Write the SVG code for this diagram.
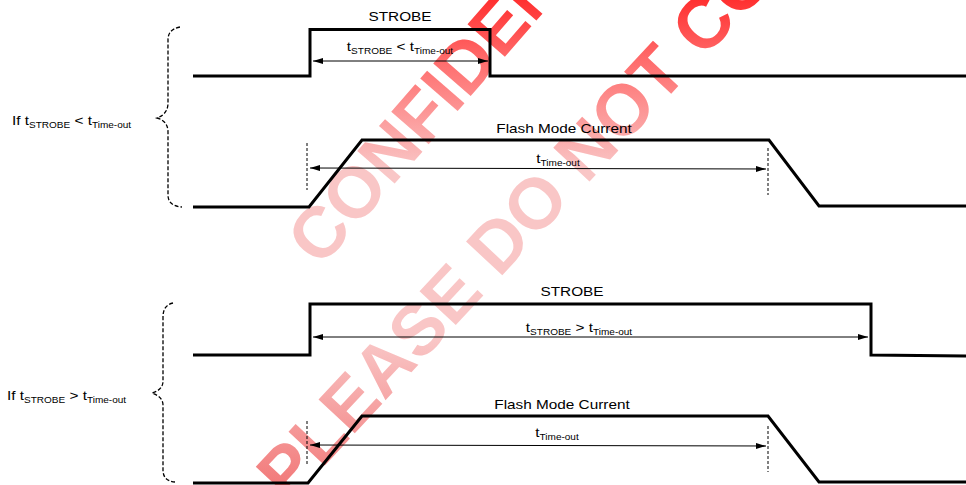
<svg xmlns="http://www.w3.org/2000/svg" width="966" height="485" viewBox="0 0 966 485">
<defs>
  <style>
    .wave { fill: none; stroke: #000; stroke-width: 3; stroke-linejoin: miter; }
    .dim { fill: none; stroke: #000; stroke-width: 1; }
    .tick { fill: none; stroke: #000; stroke-width: 1; stroke-dasharray: 3 2; }
    .brace { fill: none; stroke: #000; stroke-width: 1.3; stroke-dasharray: 4 2; }
    .lbl { font-family: "Liberation Sans", Arial, sans-serif; font-size: 13px; fill: #000; }
    .sub { font-size: 8.5px; }
    .wm { font-family: "Liberation Sans", Arial, sans-serif; font-size: 72px; font-weight: bold; }
  </style>
  <linearGradient id="wmgrad1" gradientUnits="userSpaceOnUse" x1="0" y1="0" x2="0" y2="485" gradientTransform="rotate(49) translate(-320.6 -268.7)">
    <stop offset="0" stop-color="#ff3030"/>
    <stop offset="0.12" stop-color="#ff6a6a"/>
    <stop offset="0.35" stop-color="#f9c6c6"/>
    <stop offset="0.7" stop-color="#f9c6c6"/>
    <stop offset="1" stop-color="#f27a7a"/>
  </linearGradient>
  <linearGradient id="wmgrad2" gradientUnits="userSpaceOnUse" x1="0" y1="0" x2="0" y2="485" gradientTransform="rotate(47) translate(-288.8 -504)">
    <stop offset="0" stop-color="#ff3030"/>
    <stop offset="0.12" stop-color="#ff6a6a"/>
    <stop offset="0.35" stop-color="#f9c6c6"/>
    <stop offset="0.7" stop-color="#f9c6c6"/>
    <stop offset="1" stop-color="#f27a7a"/>
  </linearGradient>
  <marker id="ah" viewBox="0 0 10 6" refX="10" refY="3" markerWidth="10" markerHeight="6" markerUnits="userSpaceOnUse" orient="auto-start-reverse">
    <path d="M0,0 L10,3 L0,6 z" fill="#000"/>
  </marker>
</defs>
<rect width="966" height="485" fill="#fff"/>

<g id="watermark">
  <text class="wm" fill="url(#wmgrad1)" transform="translate(320.6,268.7) rotate(-49)">CONFIDENTIAL</text>
  <text class="wm" fill="url(#wmgrad2)" transform="translate(288.8,504) rotate(-47)">PLEASE DO NOT COPY</text>
</g>

<g id="case1-brace">
  <path class="brace" d="M180,27 Q168,29 168,40 V103 Q168,114 157,118 Q168,121 168,132 V195 Q168,206 182,207"/>
  <text class="lbl" transform="translate(12,125) scale(1.18,1)">If t<tspan class="sub" dy="3">STROBE</tspan><tspan dy="-3"> &lt; t</tspan><tspan class="sub" dy="3">Time-out</tspan></text>
</g>

<g id="case1-strobe">
  <path class="wave" d="M193,76 H310 V29.5 H490 V76 H966"/>
  <text class="lbl" text-anchor="middle" transform="translate(400,20.5) scale(1.18,1)">STROBE</text>
  <text class="lbl" text-anchor="middle" transform="translate(400,51) scale(1.18,1)">t<tspan class="sub" dy="3">STROBE</tspan><tspan dy="-3"> &lt; t</tspan><tspan class="sub" dy="3">Time-out</tspan></text>
</g>

<g id="case1-flash">
  <path class="wave" d="M193,207 H309 L362,140 H769 L819,206 H966"/>
  <text class="lbl" text-anchor="middle" transform="translate(564,133) scale(1.18,1)">Flash Mode Current</text>
  <text class="lbl" text-anchor="middle" transform="translate(558,163) scale(1.18,1)">t<tspan class="sub" dy="3">Time-out</tspan></text>
</g>

<g id="case2-brace">
  <path class="brace" d="M173,303 Q163,305 163,317 V381 Q163,390 152,393 Q163,397 163,405 V470 Q163,481 175,482"/>
  <text class="lbl" transform="translate(7,400) scale(1.18,1)">If t<tspan class="sub" dy="3">STROBE</tspan><tspan dy="-3"> &gt; t</tspan><tspan class="sub" dy="3">Time-out</tspan></text>
</g>

<g id="case2-strobe">
  <path class="wave" d="M193,355 H310 V304 H871 V355 L966,356"/>
  <text class="lbl" text-anchor="middle" transform="translate(572,296) scale(1.18,1)">STROBE</text>
  <text class="lbl" text-anchor="middle" transform="translate(579,332) scale(1.18,1)">t<tspan class="sub" dy="3">STROBE</tspan><tspan dy="-3"> &gt; t</tspan><tspan class="sub" dy="3">Time-out</tspan></text>
</g>

<g id="case2-flash">
  <path class="wave" d="M193,483 H308 L362,416 H768 L819,482 H966"/>
  <text class="lbl" text-anchor="middle" transform="translate(562,409) scale(1.18,1)">Flash Mode Current</text>
  <text class="lbl" text-anchor="middle" transform="translate(557,437) scale(1.18,1)">t<tspan class="sub" dy="3">Time-out</tspan></text>
</g>

<g id="connectors">
  <line class="dim" x1="313" y1="61" x2="488" y2="61" marker-start="url(#ah)" marker-end="url(#ah)"/>
  <line class="tick" x1="307" y1="143" x2="307" y2="190"/>
  <line class="tick" x1="768" y1="148" x2="768" y2="195"/>
  <line class="dim" x1="310" y1="168" x2="766" y2="169" marker-start="url(#ah)" marker-end="url(#ah)"/>
  <line class="dim" x1="313" y1="337" x2="868" y2="337" marker-start="url(#ah)" marker-end="url(#ah)"/>
  <line class="tick" x1="307" y1="421" x2="307" y2="466"/>
  <line class="tick" x1="768" y1="426" x2="768" y2="472"/>
  <line class="dim" x1="310" y1="445" x2="766" y2="446" marker-start="url(#ah)" marker-end="url(#ah)"/>
</g>
</svg>
